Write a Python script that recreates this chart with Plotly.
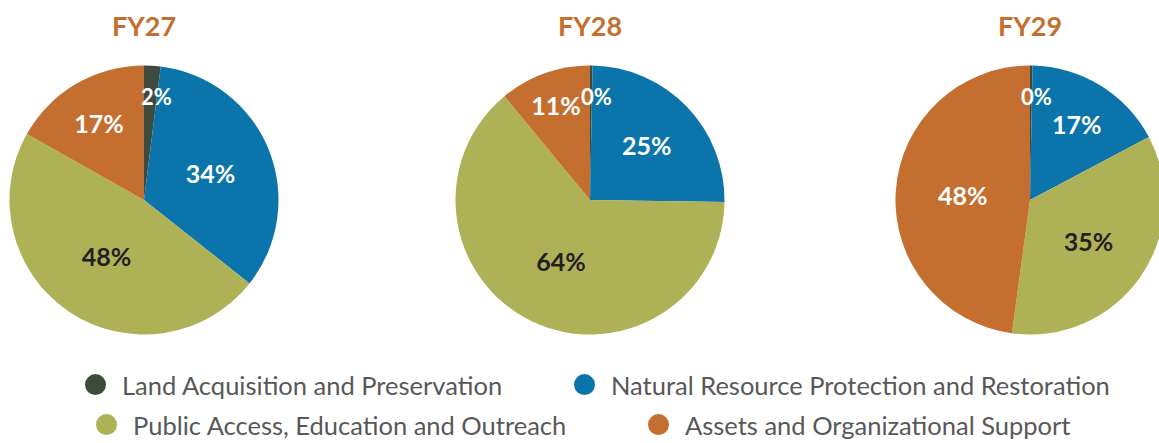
import math
import plotly.graph_objects as go

years = ["FY27", "FY28", "FY29"]
categories = [
    "Land Acquisition and Preservation",
    "Natural Resource Protection and Restoration",
    "Public Access, Education and Outreach",
    "Assets and Organizational Support",
]
fy27 = [2, 34, 48, 17]
fy28 = [0.3, 25, 64, 11]
fy29 = [0.3, 17, 35, 48]
series = [fy27, fy28, fy29]

colors = ["#3e4a3d", "#0b75ab", "#aeb155", "#c46e2f"]
label_colors = ["#ffffff", "#ffffff", "#231f20", "#ffffff"]
title_color = "#c46e2f"
legend_color = "#58585a"

W, H = 1170, 443
centers_x = [144, 590, 1030]
center_y = 200
R = 134.5
small = 5  # slices below this share get their label placed as an annotation

legend_text_x = [122, 611, 133, 685]
legend_row_y = [385, 385, 425, 425]

fig = go.Figure()
for yr, vals, cx in zip(years, series, centers_x):
    templates = ["" if v < small else "%{value:.0f}%" for v in vals]
    fig.add_trace(go.Pie(
        labels=categories,
        values=vals,
        sort=False,
        direction="clockwise",
        rotation=0,
        marker=dict(colors=colors, line=dict(width=0)),
        texttemplate=templates,
        textposition="inside",
        insidetextorientation="horizontal",
        textfont=dict(family="Lato", size=25, color=label_colors, weight="bold"),
        hoverinfo="label+percent",
        showlegend=False,
        domain=dict(x=[(cx - R) / W, (cx + R) / W],
                    y=[1 - (center_y + R) / H, 1 - (center_y - R) / H]),
    ))
    fig.add_annotation(x=cx / W, y=1 - 25 / H, xref="paper", yref="paper",
                       text=f"<b>{yr}</b>", showarrow=False,
                       font=dict(family="Lato", size=27, color=title_color),
                       xanchor="center", yanchor="middle")
    # labels for the thin slices, placed at the slice's mid angle
    total = sum(vals)
    cum = 0
    for v, tc in zip(vals, label_colors):
        if v < small:
            theta = 2 * math.pi * (cum + v / 2) / total
            r = 0.77 * R
            px = cx + r * math.sin(theta) + 6
            py = center_y - r * math.cos(theta)
            fig.add_annotation(x=px / W, y=1 - py / H, xref="paper", yref="paper",
                               text=f"<b>{v:.0f}%</b>", showarrow=False,
                               font=dict(family="Lato", size=22, color=tc),
                               xanchor="center", yanchor="middle")
        cum += v

legend_names = ["legend", "legend2", "legend3", "legend4"]
for cat, col, lg in zip(categories, colors, legend_names):
    fig.add_trace(go.Scatter(
        x=[None], y=[None], mode="markers", name=cat,
        marker=dict(size=16, color=col, symbol="circle",
                    line=dict(width=5, color=col)),
        legend=lg, hoverinfo="skip",
    ))

ITEMW = 43
legend_layouts = {}
for lg, tx, my in zip(legend_names, legend_text_x, legend_row_y):
    legend_layouts[lg] = dict(
        orientation="h", xanchor="left", yanchor="middle",
        x=(tx - (ITEMW + 10)) / W, y=1 - my / H,
        font=dict(family="Lato", size=25.5, color=legend_color),
        bgcolor="rgba(0,0,0,0)", itemwidth=ITEMW, itemsizing="trace",
    )

fig.update_layout(
    width=W, height=H,
    margin=dict(l=0, r=0, t=0, b=0, autoexpand=False),
    paper_bgcolor="white", plot_bgcolor="white",
    xaxis=dict(visible=False), yaxis=dict(visible=False),
    **legend_layouts,
)

fig.write_html("out.html", config={"displayModeBar": False},
               post_script="document.body.style.margin='0';document.body.style.overflow='hidden';")
